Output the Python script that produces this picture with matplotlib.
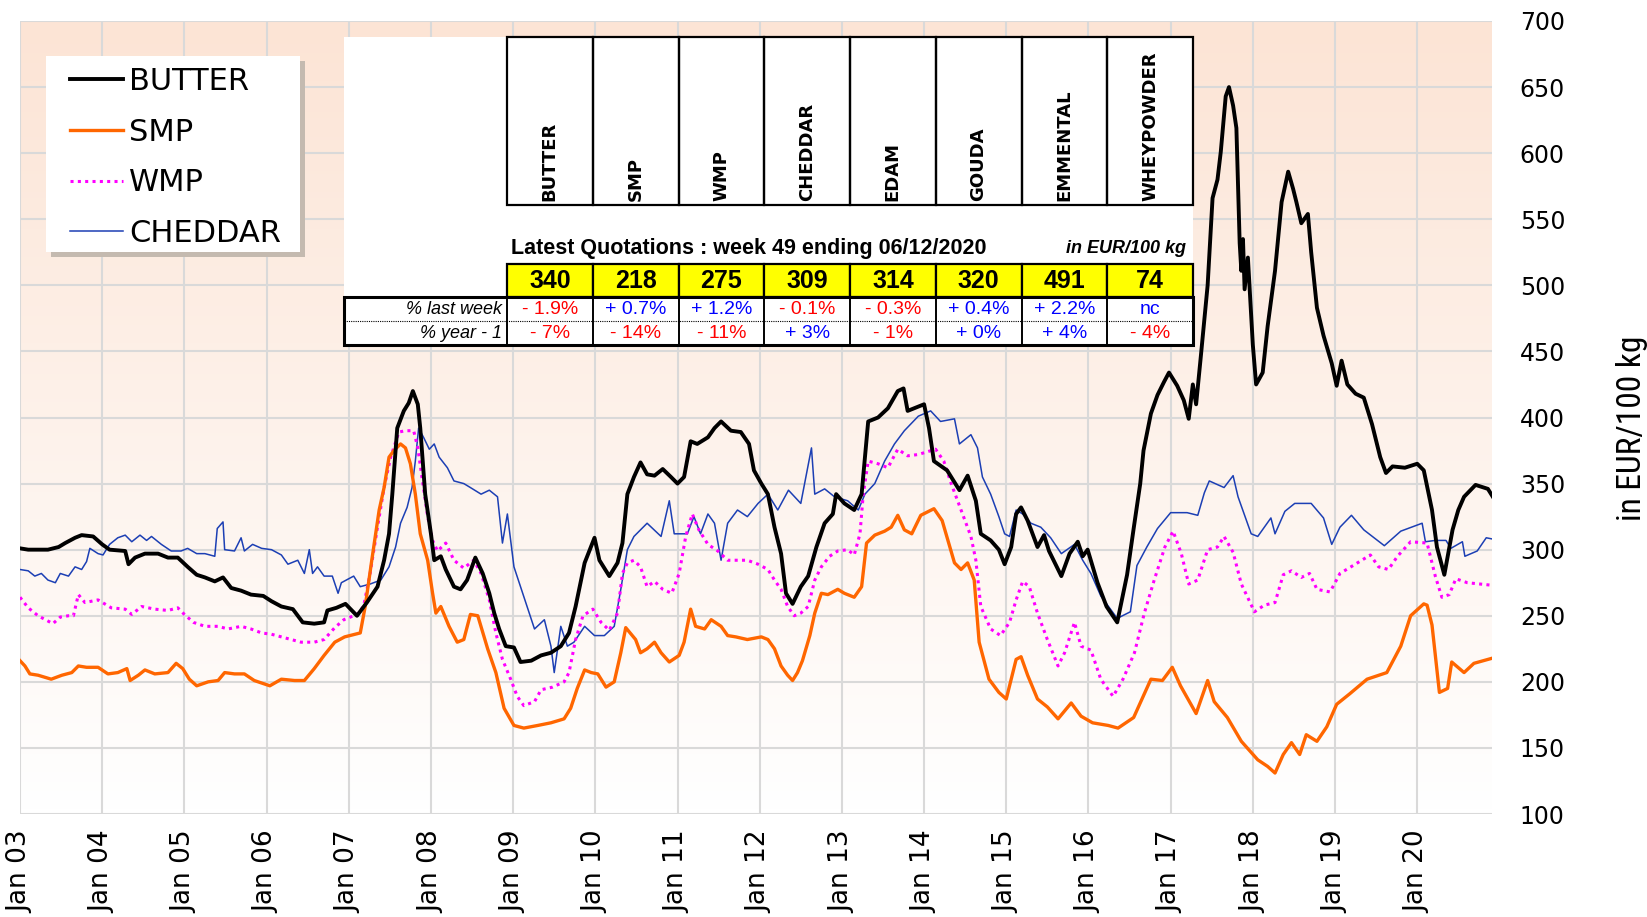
import matplotlib
matplotlib.use("Agg")
import matplotlib.pyplot as plt
import numpy as np
from matplotlib.colors import LinearSegmentedColormap
from matplotlib.patches import Rectangle
from matplotlib.lines import Line2D
from matplotlib import font_manager

# ---- data (decimal year, EUR/100 kg) ----
butter_t = [2003.00, 2003.10, 2003.34, 2003.47, 2003.55, 2003.67, 2003.75, 2003.89, 2004.00, 2004.09,
            2004.28, 2004.32, 2004.40, 2004.52, 2004.68, 2004.80, 2004.92, 2005.04, 2005.15, 2005.25,
            2005.37, 2005.47, 2005.57, 2005.69, 2005.81, 2005.96, 2006.06, 2006.18, 2006.32, 2006.38,
            2006.44, 2006.58, 2006.70, 2006.74, 2006.85, 2006.96, 2007.10, 2007.22, 2007.35, 2007.43,
            2007.49, 2007.53, 2007.59, 2007.67, 2007.73, 2007.78, 2007.84, 2007.87, 2007.93, 2008.00,
            2008.04, 2008.12, 2008.18, 2008.28, 2008.36, 2008.44, 2008.54, 2008.63, 2008.71, 2008.77,
            2008.83, 2008.91, 2009.01, 2009.09, 2009.22, 2009.34, 2009.46, 2009.58, 2009.68, 2009.76,
            2009.87, 2009.99, 2010.05, 2010.17, 2010.27, 2010.33, 2010.39, 2010.47, 2010.55, 2010.63,
            2010.72, 2010.82, 2010.92, 2011.00, 2011.08, 2011.16, 2011.24, 2011.37, 2011.45, 2011.53,
            2011.65, 2011.77, 2011.87, 2011.93, 2012.02, 2012.10, 2012.18, 2012.26, 2012.32, 2012.40,
            2012.50, 2012.59, 2012.69, 2012.79, 2012.89, 2012.93, 2013.03, 2013.15, 2013.24, 2013.32,
            2013.44, 2013.56, 2013.68, 2013.75, 2013.80, 2013.88, 2014.00, 2014.06, 2014.12, 2014.28,
            2014.43, 2014.53, 2014.63, 2014.69, 2014.81, 2014.91, 2014.98, 2015.06, 2015.12, 2015.18,
            2015.26, 2015.38, 2015.46, 2015.52, 2015.67, 2015.77, 2015.87, 2015.93, 2015.99, 2016.11,
            2016.22, 2016.35, 2016.47, 2016.55, 2016.63, 2016.67, 2016.76, 2016.84, 2016.92, 2016.98,
            2017.08, 2017.16, 2017.22, 2017.27, 2017.31, 2017.37, 2017.45, 2017.51, 2017.57, 2017.61,
            2017.67, 2017.71, 2017.76, 2017.80, 2017.84, 2017.86, 2017.88, 2017.90, 2017.94, 2018.00,
            2018.04, 2018.12, 2018.18, 2018.27, 2018.35, 2018.43, 2018.49, 2018.53, 2018.59, 2018.67,
            2018.71, 2018.78, 2018.86, 2018.96, 2019.02, 2019.08, 2019.15, 2019.25, 2019.35, 2019.45,
            2019.55, 2019.62, 2019.70, 2019.85, 2020.00, 2020.08, 2020.12, 2020.18, 2020.24, 2020.33,
            2020.43, 2020.50, 2020.57, 2020.71, 2020.86, 2020.92]
butter_v = [301, 300, 300, 302, 305, 309, 311, 310, 304, 300,
            299, 289, 294, 297, 297, 294, 294, 287, 281, 279,
            276, 279, 271, 269, 266, 265, 261, 257, 255, 250,
            245, 244, 245, 254, 256, 259, 250, 260, 272, 292,
            312, 342, 392, 405, 411, 420, 410, 392, 342, 312,
            292, 295, 285, 272, 270, 277, 294, 282, 267, 252,
            240, 227, 226, 215, 216, 220, 222, 227, 237, 257,
            290, 309, 292, 280, 290, 305, 342, 355, 366, 357,
            356, 361, 355, 350, 355, 382, 380, 385, 392, 397,
            390, 389, 380, 360, 350, 342, 317, 297, 267, 259,
            272, 280, 302, 320, 327, 342, 335, 330, 342, 397,
            400, 407, 420, 422, 405, 407, 410, 392, 367, 360,
            345, 356, 337, 312, 307, 300, 289, 302, 327, 332,
            322, 302, 311, 299, 280, 297, 306, 295, 300, 275,
            257, 245, 281, 316, 350, 375, 403, 417, 427, 434,
            424, 413, 399, 425, 410, 448, 500, 566, 580, 601,
            643, 650, 636, 619, 532, 511, 535, 497, 521, 455,
            425, 434, 469, 511, 563, 586, 573, 563, 547, 554,
            525, 483, 462, 441, 424, 443, 425, 418, 415, 395,
            370, 358, 363, 362, 365, 360, 348, 330, 302, 281,
            315, 330, 340, 349, 346, 340]

smp_t = [2003.00, 2003.06, 2003.12, 2003.22, 2003.38, 2003.51, 2003.63, 2003.71, 2003.81, 2003.95,
         2004.07, 2004.19, 2004.30, 2004.34, 2004.44, 2004.52, 2004.64, 2004.80, 2004.90, 2004.98,
         2005.06, 2005.15, 2005.29, 2005.41, 2005.49, 2005.61, 2005.73, 2005.85, 2006.04, 2006.18,
         2006.34, 2006.46, 2006.58, 2006.70, 2006.83, 2006.95, 2007.14, 2007.20, 2007.28, 2007.37,
         2007.43, 2007.49, 2007.55, 2007.63, 2007.69, 2007.75, 2007.81, 2007.87, 2007.96, 2008.02,
         2008.06, 2008.12, 2008.22, 2008.32, 2008.40, 2008.48, 2008.57, 2008.69, 2008.79, 2008.89,
         2009.01, 2009.13, 2009.30, 2009.46, 2009.62, 2009.70, 2009.78, 2009.87, 2009.95, 2010.03,
         2010.13, 2010.23, 2010.31, 2010.37, 2010.49, 2010.55, 2010.63, 2010.72, 2010.80, 2010.90,
         2011.02, 2011.08, 2011.16, 2011.22, 2011.33, 2011.41, 2011.53, 2011.61, 2011.71, 2011.85,
         2012.02, 2012.10, 2012.18, 2012.26, 2012.34, 2012.40, 2012.46, 2012.52, 2012.61, 2012.67,
         2012.75, 2012.83, 2012.95, 2013.03, 2013.15, 2013.24, 2013.30, 2013.40, 2013.52, 2013.60,
         2013.68, 2013.76, 2013.85, 2013.96, 2014.12, 2014.22, 2014.37, 2014.45, 2014.53, 2014.61,
         2014.67, 2014.79, 2014.91, 2015.00, 2015.04, 2015.12, 2015.18, 2015.26, 2015.38, 2015.50,
         2015.63, 2015.79, 2015.91, 2016.05, 2016.24, 2016.36, 2016.55, 2016.76, 2016.90, 2017.02,
         2017.12, 2017.31, 2017.45, 2017.53, 2017.69, 2017.86, 2018.06, 2018.18, 2018.27, 2018.37,
         2018.47, 2018.57, 2018.65, 2018.78, 2018.90, 2019.02, 2019.18, 2019.39, 2019.63, 2019.80,
         2019.92, 2020.08, 2020.12, 2020.18, 2020.27, 2020.37, 2020.42, 2020.57, 2020.69, 2020.92]
smp_v = [216, 212, 206, 205, 202, 205, 207, 212, 211, 211,
         206, 207, 210, 201, 205, 209, 206, 207, 214, 210,
         202, 197, 200, 201, 207, 206, 206, 201, 197, 202,
         201, 201, 210, 220, 230, 234, 237, 257, 292, 330,
         347, 370, 375, 380, 377, 365, 342, 312, 292, 267,
         252, 257, 242, 230, 232, 251, 250, 225, 207, 180,
         167, 165, 167, 169, 172, 180, 195, 209, 207, 206,
         196, 200, 222, 241, 232, 222, 225, 230, 222, 215,
         220, 230, 255, 242, 240, 247, 242, 235, 234, 232,
         234, 232, 225, 212, 205, 201, 207, 216, 235, 252,
         267, 266, 270, 267, 264, 272, 305, 311, 314, 317,
         326, 315, 312, 326, 331, 322, 290, 285, 290, 277,
         230, 202, 192, 187, 197, 217, 219, 205, 187, 181,
         172, 184, 174, 169, 167, 165, 173, 202, 201, 211,
         197, 176, 201, 185, 173, 155, 141, 136, 131, 145,
         154, 145, 160, 155, 166, 183, 191, 202, 207, 227,
         250, 259, 258, 243, 192, 195, 215, 207, 214, 218]

wmp_t = [2003.00, 2003.10, 2003.22, 2003.34, 2003.40, 2003.49, 2003.59, 2003.65, 2003.71, 2003.79,
         2003.95, 2004.11, 2004.28, 2004.36, 2004.48, 2004.64, 2004.80, 2004.92, 2005.00, 2005.11,
         2005.25, 2005.41, 2005.53, 2005.69, 2005.81, 2005.94, 2006.06, 2006.18, 2006.30, 2006.42,
         2006.58, 2006.70, 2006.83, 2006.94, 2007.10, 2007.18, 2007.26, 2007.35, 2007.43, 2007.51,
         2007.61, 2007.69, 2007.79, 2007.84, 2007.89, 2007.96, 2008.02, 2008.08, 2008.18, 2008.28,
         2008.40, 2008.52, 2008.61, 2008.71, 2008.79, 2008.87, 2008.97, 2009.05, 2009.13, 2009.26,
         2009.34, 2009.48, 2009.62, 2009.68, 2009.76, 2009.85, 2009.97, 2010.07, 2010.17, 2010.27,
         2010.33, 2010.39, 2010.47, 2010.55, 2010.63, 2010.72, 2010.82, 2010.93, 2011.02, 2011.10,
         2011.18, 2011.26, 2011.37, 2011.49, 2011.61, 2011.73, 2011.85, 2011.98, 2012.10, 2012.18,
         2012.26, 2012.34, 2012.42, 2012.50, 2012.59, 2012.67, 2012.75, 2012.85, 2012.95, 2013.07,
         2013.15, 2013.22, 2013.26, 2013.32, 2013.44, 2013.56, 2013.68, 2013.80, 2013.93, 2014.14,
         2014.24, 2014.33, 2014.45, 2014.57, 2014.63, 2014.69, 2014.81, 2014.93, 2015.04, 2015.12,
         2015.20, 2015.28, 2015.38, 2015.50, 2015.63, 2015.71, 2015.83, 2015.91, 2016.03, 2016.15,
         2016.30, 2016.42, 2016.56, 2016.68, 2016.80, 2016.93, 2017.03, 2017.13, 2017.22, 2017.33,
         2017.45, 2017.57, 2017.65, 2017.76, 2017.86, 2018.02, 2018.14, 2018.27, 2018.37, 2018.47,
         2018.59, 2018.69, 2018.78, 2018.94, 2019.06, 2019.22, 2019.43, 2019.53, 2019.65, 2019.76,
         2019.92, 2020.12, 2020.22, 2020.30, 2020.39, 2020.47, 2020.61, 2020.92]
wmp_v = [264, 256, 250, 246, 244, 249, 250, 250, 266, 260,
         262, 256, 255, 251, 257, 255, 254, 256, 251, 245,
         242, 242, 240, 242, 240, 237, 236, 234, 232, 230,
         230, 232, 241, 247, 251, 257, 282, 317, 347, 370,
         389, 390, 390, 377, 355, 325, 307, 299, 305, 292,
         286, 292, 282, 262, 237, 217, 202, 189, 182, 185,
         194, 196, 200, 207, 232, 250, 255, 245, 239, 252,
         282, 290, 292, 287, 272, 276, 270, 267, 282, 310,
         327, 315, 304, 299, 292, 292, 292, 289, 285, 277,
         270, 257, 250, 252, 257, 277, 287, 295, 299, 300,
         296, 312, 342, 367, 365, 362, 376, 371, 372, 376,
         367, 350, 330, 310, 292, 257, 240, 235, 245, 262,
         276, 272, 252, 232, 212, 222, 245, 227, 224, 202,
         189, 202, 222, 252, 277, 302, 314, 297, 274, 277,
         300, 302, 310, 298, 274, 253, 258, 260, 281, 284,
         279, 282, 270, 268, 282, 288, 296, 287, 285, 295,
         306, 305, 280, 264, 266, 278, 275, 273]

cheddar_t = [2003.00, 2003.10, 2003.18, 2003.26, 2003.34, 2003.43, 2003.49, 2003.59, 2003.67, 2003.75,
             2003.81, 2003.85, 2003.95, 2004.01, 2004.09, 2004.19, 2004.28, 2004.36, 2004.46, 2004.54,
             2004.60, 2004.72, 2004.84, 2004.96, 2005.04, 2005.15, 2005.25, 2005.37, 2005.40, 2005.47,
             2005.49, 2005.61, 2005.69, 2005.73, 2005.83, 2005.94, 2006.06, 2006.18, 2006.26, 2006.38,
             2006.46, 2006.52, 2006.56, 2006.62, 2006.70, 2006.80, 2006.87, 2006.91, 2007.06, 2007.14,
             2007.26, 2007.39, 2007.49, 2007.57, 2007.63, 2007.71, 2007.77, 2007.81, 2007.85, 2007.91,
             2007.98, 2008.04, 2008.10, 2008.20, 2008.28, 2008.40, 2008.48, 2008.61, 2008.71, 2008.81,
             2008.87, 2008.93, 2009.01, 2009.09, 2009.17, 2009.26, 2009.38, 2009.46, 2009.50, 2009.58,
             2009.66, 2009.74, 2009.87, 2009.99, 2010.11, 2010.23, 2010.31, 2010.39, 2010.47, 2010.63,
             2010.80, 2010.90, 2010.96, 2011.12, 2011.20, 2011.28, 2011.37, 2011.45, 2011.53, 2011.61,
             2011.73, 2011.85, 2011.98, 2012.10, 2012.22, 2012.35, 2012.50, 2012.63, 2012.67, 2012.79,
             2012.91, 2013.07, 2013.20, 2013.28, 2013.40, 2013.52, 2013.64, 2013.76, 2013.93, 2014.08,
             2014.20, 2014.37, 2014.43, 2014.57, 2014.65, 2014.71, 2014.81, 2014.91, 2014.98, 2015.04,
             2015.12, 2015.20, 2015.30, 2015.42, 2015.54, 2015.67, 2015.83, 2015.93, 2016.03, 2016.15,
             2016.35, 2016.51, 2016.59, 2016.71, 2016.84, 2017.00, 2017.20, 2017.33, 2017.41, 2017.47,
             2017.65, 2017.76, 2017.82, 2017.98, 2018.06, 2018.22, 2018.27, 2018.39, 2018.51, 2018.71,
             2018.86, 2018.96, 2019.06, 2019.20, 2019.35, 2019.60, 2019.80, 2020.06, 2020.10, 2020.22,
             2020.35, 2020.41, 2020.55, 2020.58, 2020.73, 2020.84, 2020.92]
cheddar_v = [285, 284, 280, 282, 277, 275, 282, 280, 287, 285,
             291, 301, 297, 296, 304, 309, 311, 306, 311, 307,
             310, 304, 299, 299, 301, 297, 297, 295, 316, 321,
             300, 299, 309, 299, 304, 301, 300, 296, 289, 292,
             282, 300, 282, 287, 280, 280, 267, 275, 280, 272,
             274, 277, 287, 302, 320, 332, 347, 367, 392, 385,
             376, 380, 370, 362, 352, 350, 347, 342, 345, 340,
             305, 327, 287, 272, 257, 240, 247, 227, 207, 242,
             227, 230, 242, 235, 235, 242, 270, 300, 310, 320,
             310, 337, 312, 312, 325, 312, 327, 320, 292, 320,
             330, 325, 335, 342, 330, 345, 335, 377, 342, 346,
             340, 337, 330, 342, 350, 367, 380, 390, 401, 405,
             397, 399, 380, 387, 377, 355, 342, 325, 312, 310,
             330, 327, 320, 317, 309, 297, 304, 292, 282, 265,
             248, 253, 288, 302, 316, 328, 328, 326, 343, 352,
             347, 356, 340, 312, 310, 324, 312, 329, 335, 335,
             324, 304, 317, 326, 315, 303, 314, 320, 306, 307,
             307, 301, 306, 295, 299, 309, 308]

years = list(range(2003, 2021))
year_labels = ["Jan %02d" % (y % 100) for y in years]

products = ["BUTTER", "SMP", "WMP", "CHEDDAR", "EDAM", "GOUDA", "EMMENTAL", "WHEYPOWDER"]
latest = ["340", "218", "275", "309", "314", "320", "491", "74"]
pct_week = ["- 1.9%", "+ 0.7%", "+ 1.2%", "- 0.1%", "- 0.3%", "+ 0.4%", "+ 2.2%", "nc"]
pct_year = ["- 7%", "- 14%", "- 11%", "+ 3%", "- 1%", "+ 0%", "+ 4%", "- 4%"]

W, H = 1647, 917
names = {f.name for f in font_manager.fontManager.ttflist}
narrow = "Liberation Sans"
for cand in ["Liberation Sans Narrow", "Arial Narrow", "Roboto Condensed"]:
    if cand in names:
        narrow = cand
        break
tfont = "Liberation Sans"
plt.rcParams["font.family"] = "DejaVu Sans"

fig = plt.figure(figsize=(W / 100, H / 100), dpi=100)
ax = fig.add_axes([20 / W, 1 - 814 / H, 1472 / W, 793 / H])

x0, x1 = 2003.0, 2020.91
ax.set_xlim(x0, x1)
ax.set_ylim(100, 700)

# peach gradient background
cmap = LinearSegmentedColormap.from_list("bg", ["#ffffff", "#fce4d5"])
ax.imshow(np.linspace(1, 0, 256).reshape(-1, 1), cmap=cmap, extent=[x0, x1, 100, 700],
          aspect="auto", zorder=0, interpolation="bicubic")

ax.set_axisbelow(True)
ax.grid(True, color="#d9d9d9", lw=1.5)
for s in ax.spines.values():
    s.set_visible(False)

ax.plot(cheddar_t, cheddar_v, color="#1c3fb4", lw=1.1, zorder=3)
ax.plot(wmp_t, wmp_v, color="#ff00ff", lw=2.2, ls=(0, (1, 1.4)), zorder=4)
ax.plot(smp_t, smp_v, color="#ff6600", lw=2.4, zorder=5)
ax.plot(butter_t, butter_v, color="black", lw=2.8, zorder=6)

ax.set_xticks(years)
ax.set_xticklabels(year_labels, rotation=90, fontsize=19)
ax.set_yticks(range(100, 701, 50))
ax.yaxis.tick_right()
ax.tick_params(axis="y", length=0, pad=20, labelsize=17)
ax.tick_params(axis="x", length=0, pad=12)


def fx(x):
    return x / W


def fy(y):
    return 1 - y / H


fig.text(fx(1632), fy(428), "in EUR/100 kg", rotation=90, ha="center", va="center",
         fontsize=24, family=narrow)

# legend: white box with a soft offset shadow
fig.add_artist(Rectangle((fx(51), fy(257)), fx(254), 196 / H, transform=fig.transFigure,
                         facecolor="#c4bab0", edgecolor="none", zorder=9))
fig.add_artist(Rectangle((fx(46), fy(252)), fx(254), 196 / H, transform=fig.transFigure,
                         facecolor="white", edgecolor="none", zorder=9.5))
handles = [Line2D([], [], color="black", lw=2.8),
           Line2D([], [], color="#ff6600", lw=2.4),
           Line2D([], [], color="#ff00ff", lw=2.2, ls=(0, (1, 1.4))),
           Line2D([], [], color="#1c3fb4", lw=1.1)]
leg = fig.legend(handles, ["BUTTER", "SMP", "WMP", "CHEDDAR"], loc="upper left",
                 bbox_to_anchor=(fx(70), fy(67)), fontsize=22, frameon=False,
                 borderpad=0, labelspacing=0.71, handlelength=1.72, handletextpad=0.22,
                 borderaxespad=0)
leg.set_zorder(10)


# ---- quotation table, in pixel coordinates of the figure ----
def box(xa, ya, xb, yb, fc="none", lw=1.6, ec="black", z=11):
    fig.add_artist(Rectangle((fx(xa), fy(yb)), fx(xb) - fx(xa), fy(ya) - fy(yb),
                             transform=fig.transFigure, facecolor=fc, edgecolor=ec, lw=lw, zorder=z))


tl, tr = 507, 1193
cw = (tr - tl) / len(products)
box(344, 37, tr, 345, fc="white", lw=0, ec="none", z=10)

for i, name in enumerate(products):
    xa = tl + i * cw
    box(xa, 37, xa + cw, 205)
    fig.text(fx(xa + cw / 2), fy(201), name, rotation=90, ha="center", va="bottom",
             fontsize=13, fontweight="bold", zorder=12)
    box(xa, 264, xa + cw, 297, fc="#ffff00")
    fig.text(fx(xa + cw / 2), fy(281), latest[i], ha="center", va="center",
             fontsize=18, fontweight="bold", family=tfont, zorder=12)
    box(xa, 297, xa + cw, 345, lw=1.2)
    for row, vals in ((309, pct_week), (333, pct_year)):
        v = vals[i]
        col = "#ff0000" if v.startswith("-") else "#0000ff"
        fig.text(fx(xa + cw / 2), fy(row), v, ha="center", va="center",
                 fontsize=14, family=tfont, color=col, zorder=12)

box(344, 297, tl, 345, lw=1.2)
box(344, 297, tr, 345, lw=2.2)
fig.add_artist(Line2D([fx(344), fx(tr)], [fy(321), fy(321)], transform=fig.transFigure,
                      color="black", lw=0.8, ls=(0, (1, 1)), zorder=12))
fig.text(fx(502), fy(309), "% last week", ha="right", va="center", fontsize=13,
         family=tfont, style="italic", zorder=12)
fig.text(fx(502), fy(333), "% year - 1", ha="right", va="center", fontsize=13,
         family=tfont, style="italic", zorder=12)
fig.text(fx(511), fy(248), "Latest Quotations : week 49 ending 06/12/2020", ha="left",
         va="center", fontsize=15.5, fontweight="bold", family=tfont, zorder=12)
fig.text(fx(1186), fy(248), "in EUR/100 kg", ha="right", va="center", fontsize=13,
         fontweight="bold", style="italic", family=tfont, zorder=12)

fig.savefig("out.png", dpi=100)
